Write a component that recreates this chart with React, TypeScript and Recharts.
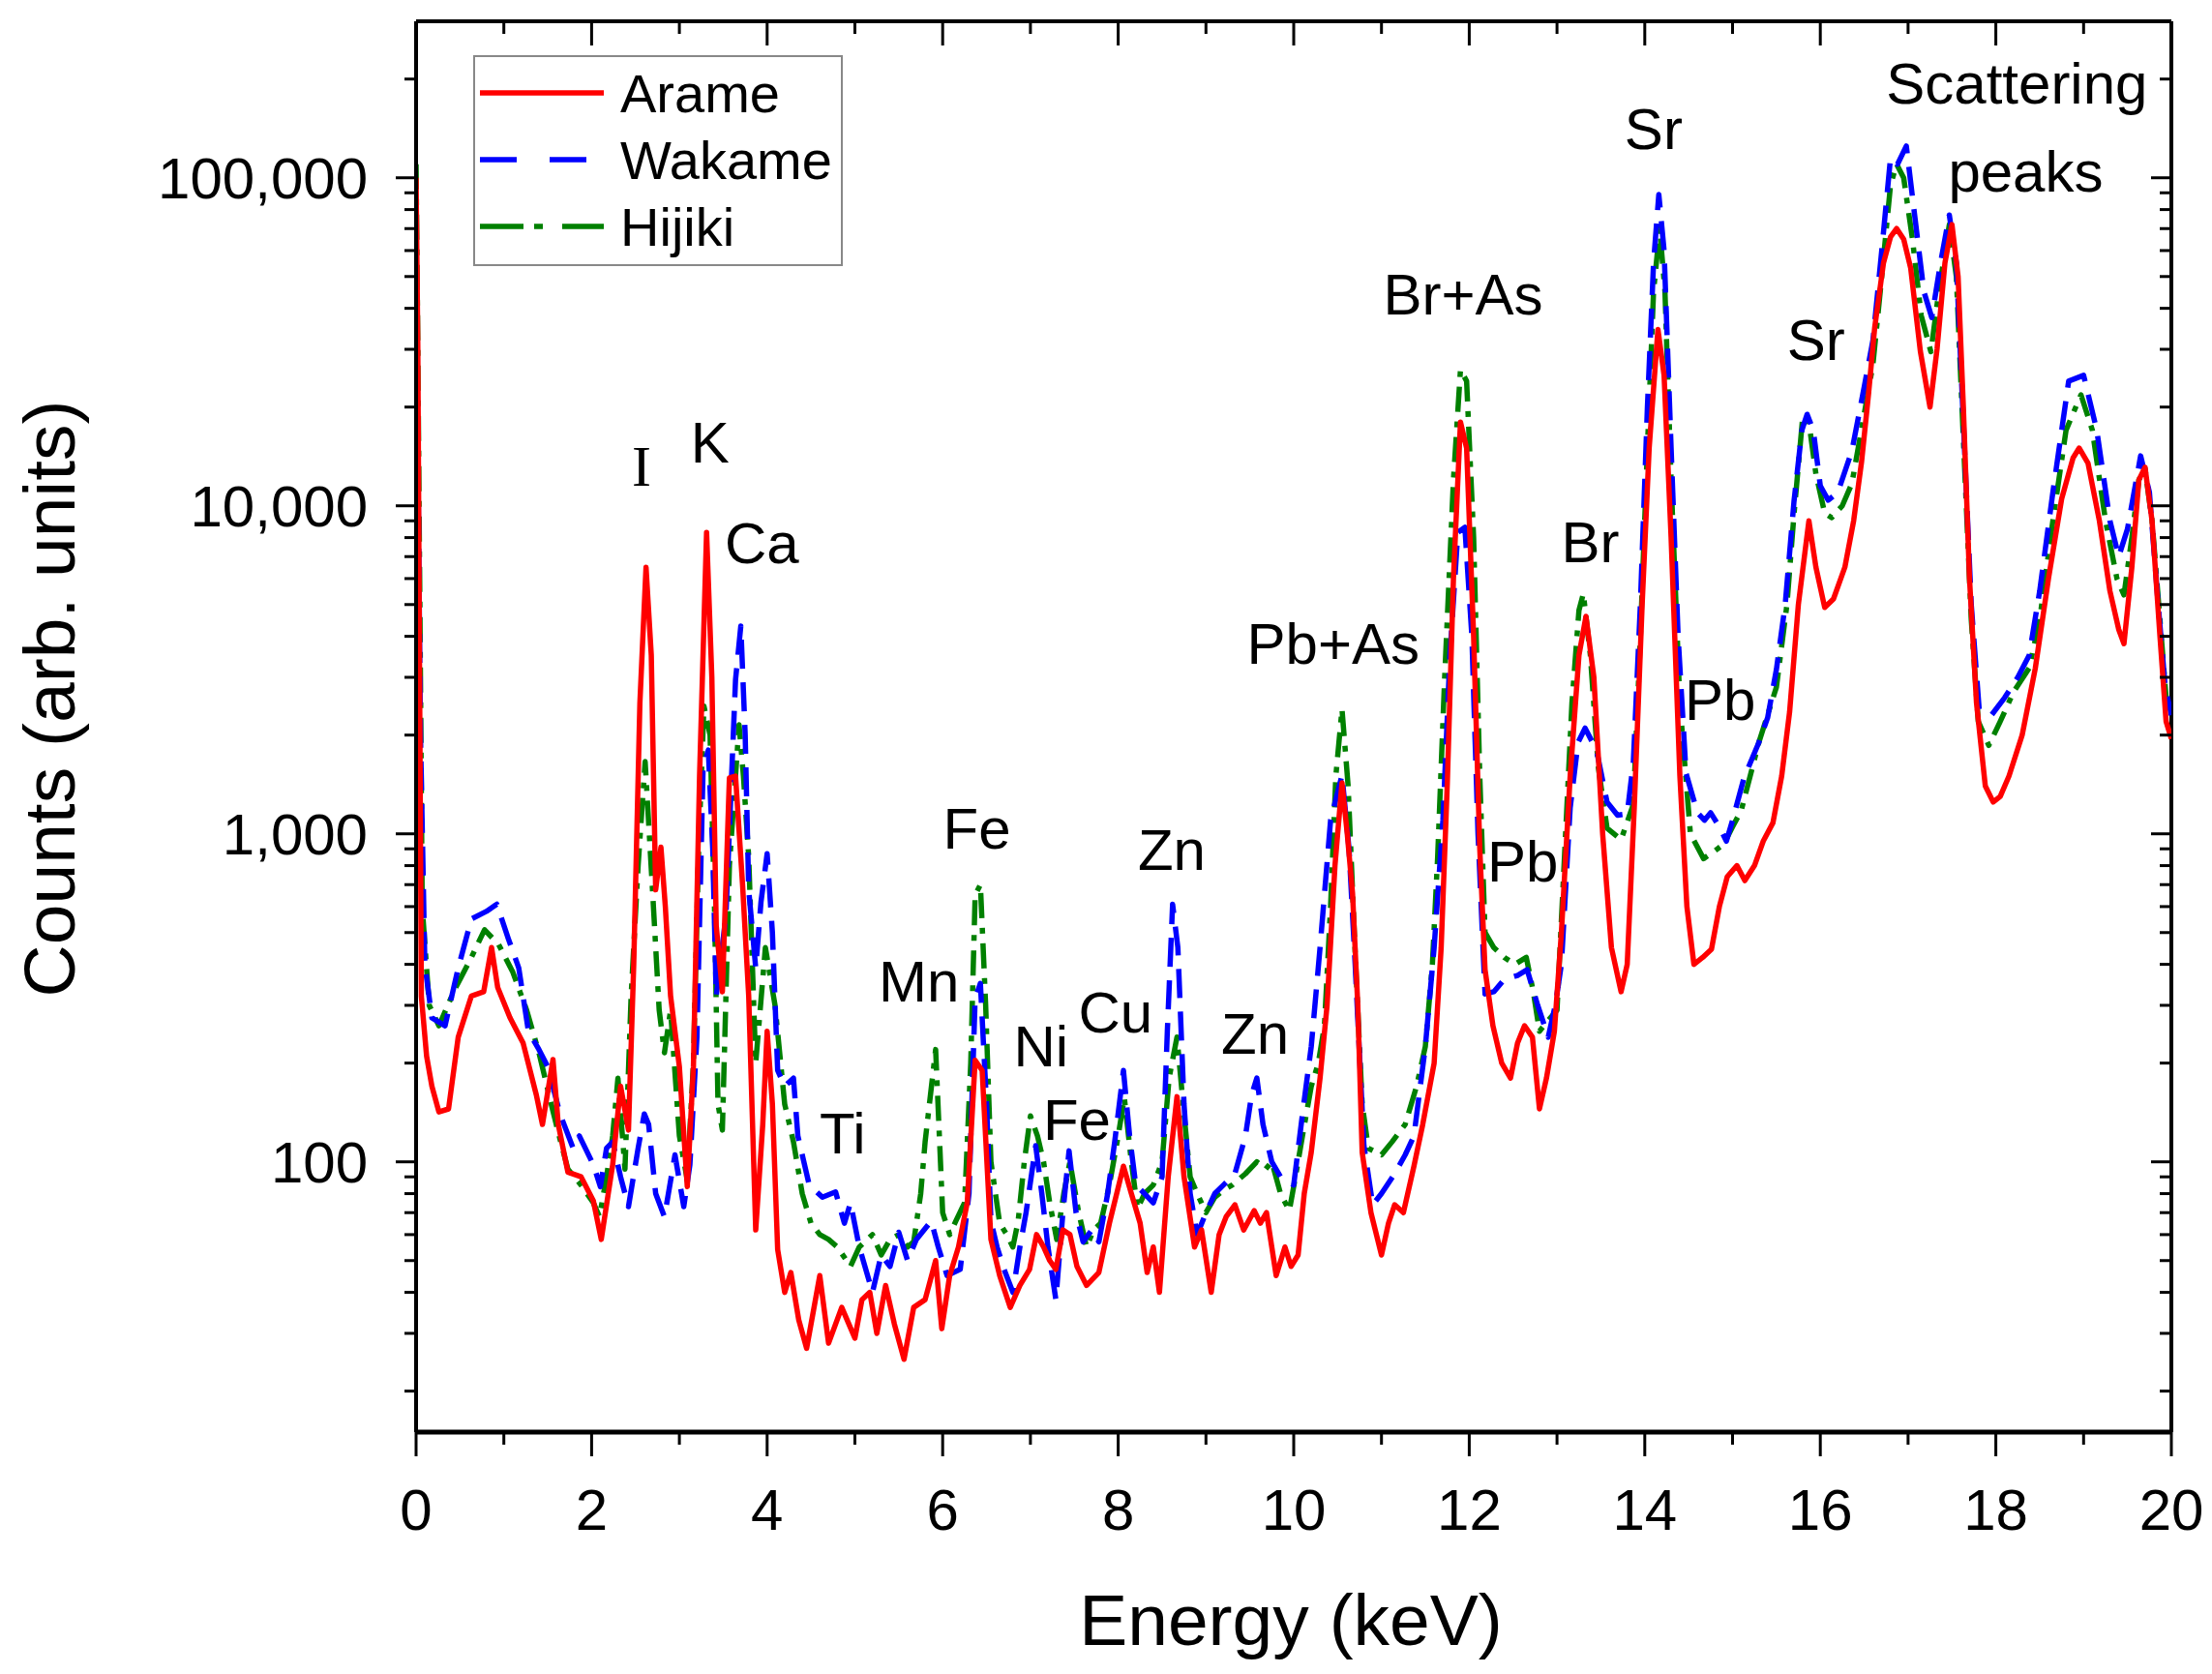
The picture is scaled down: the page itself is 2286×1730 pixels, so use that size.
import React from "react";
import { LineChart, Line, XAxis, YAxis, ReferenceLine, ReferenceDot } from "recharts";

// XRF spectra, [energy keV, counts]
const arame: [number, number][] = [
  [0, 100000], [0.02, 30000], [0.04, 3000], [0.06, 320], [0.12, 210], [0.18, 170], [0.26, 142], [0.37, 145],
  [0.48, 240], [0.63, 320], [0.77, 330], [0.86, 450], [0.93, 340], [1.07, 275], [1.22, 230], [1.37, 160],
  [1.44, 130], [1.56, 205], [1.62, 130], [1.73, 93], [1.88, 90], [2.02, 76], [2.11, 58], [2.24, 98],
  [2.33, 170], [2.42, 125], [2.48, 400], [2.55, 2500], [2.62, 6500], [2.68, 3500], [2.73, 675], [2.79, 910],
  [2.84, 600], [2.9, 320], [3.0, 195], [3.09, 84], [3.16, 195], [3.23, 1500], [3.31, 8300], [3.37, 3000],
  [3.42, 525], [3.49, 330], [3.57, 1480], [3.64, 1500], [3.72, 700], [3.79, 320], [3.87, 62], [3.95, 130],
  [4.0, 250], [4.06, 150], [4.12, 54], [4.2, 40], [4.27, 46], [4.36, 33], [4.45, 27], [4.6, 45],
  [4.7, 28], [4.85, 36], [5.0, 29], [5.08, 38], [5.17, 40], [5.25, 30], [5.35, 42], [5.45, 32],
  [5.56, 25], [5.67, 36], [5.8, 38], [5.92, 50], [5.99, 31], [6.08, 45], [6.18, 55], [6.28, 75],
  [6.37, 204], [6.45, 190], [6.55, 58], [6.65, 45], [6.77, 36], [6.88, 42], [6.99, 47], [7.07, 60],
  [7.15, 55], [7.22, 50], [7.29, 47], [7.37, 62], [7.45, 60], [7.53, 48], [7.64, 42], [7.78, 46],
  [7.9, 65], [8.06, 97], [8.15, 80], [8.25, 65], [8.33, 46], [8.4, 55], [8.47, 40], [8.57, 90],
  [8.67, 158], [8.75, 90], [8.87, 55], [8.95, 62], [9.06, 40], [9.15, 60], [9.23, 68], [9.33, 74],
  [9.43, 62], [9.55, 71], [9.62, 65], [9.69, 70], [9.8, 45], [9.9, 55], [9.97, 48], [10.05, 52],
  [10.12, 80], [10.2, 107], [10.3, 180], [10.38, 300], [10.47, 800], [10.55, 1430], [10.61, 1000], [10.67, 660],
  [10.73, 300], [10.78, 107], [10.88, 70], [11.0, 52], [11.08, 65], [11.15, 74], [11.25, 70], [11.37, 97],
  [11.47, 130], [11.6, 200], [11.68, 450], [11.75, 1430], [11.82, 6000], [11.9, 18000], [11.97, 15000], [12.05, 4000],
  [12.12, 900], [12.18, 385], [12.27, 260], [12.37, 200], [12.47, 180], [12.55, 230], [12.63, 260], [12.72, 240],
  [12.8, 145], [12.88, 180], [12.97, 250], [13.05, 500], [13.15, 1500], [13.25, 3500], [13.33, 4600], [13.42, 3000],
  [13.52, 1000], [13.62, 450], [13.73, 330], [13.8, 400], [13.88, 1200], [13.97, 5000], [14.05, 15000], [14.15, 34500],
  [14.22, 25000], [14.3, 8000], [14.4, 1500], [14.48, 600], [14.56, 400], [14.66, 420], [14.76, 445], [14.85, 600],
  [14.94, 740], [15.05, 800], [15.14, 720], [15.25, 800], [15.35, 950], [15.46, 1080], [15.56, 1500], [15.65, 2350],
  [15.75, 5000], [15.87, 9000], [15.95, 6500], [16.05, 4900], [16.15, 5200], [16.28, 6500], [16.38, 9000], [16.47, 13600],
  [16.55, 22000], [16.62, 35000], [16.72, 55000], [16.8, 66000], [16.87, 70000], [16.95, 65000], [17.03, 53000], [17.14, 29600],
  [17.25, 20000], [17.33, 30000], [17.42, 55000], [17.5, 72000], [17.57, 50000], [17.63, 20000], [17.7, 6000], [17.78, 2500],
  [17.88, 1400], [17.97, 1250], [18.05, 1300], [18.15, 1500], [18.3, 2000], [18.45, 3200], [18.6, 6000], [18.75, 10500],
  [18.88, 14000], [18.95, 15000], [19.05, 13500], [19.18, 9000], [19.3, 5500], [19.4, 4200], [19.46, 3800], [19.55, 6500],
  [19.63, 12000], [19.7, 13100], [19.78, 9000], [19.87, 4000], [19.94, 2200], [20.0, 1950],
];

const wakame: [number, number][] = [
  [0, 60000], [0.02, 15000], [0.05, 2000], [0.1, 400], [0.18, 275], [0.33, 260], [0.48, 390], [0.63, 550],
  [0.8, 580], [0.92, 610], [1.05, 480], [1.17, 390], [1.28, 250], [1.4, 220], [1.5, 195], [1.64, 140],
  [1.79, 110], [1.86, 120], [2.02, 98], [2.1, 84], [2.17, 110], [2.24, 115], [2.33, 90], [2.42, 73],
  [2.53, 110], [2.6, 140], [2.65, 130], [2.73, 80], [2.83, 68], [2.95, 105], [3.05, 73], [3.12, 98],
  [3.2, 240], [3.27, 1580], [3.33, 1800], [3.38, 900], [3.42, 320], [3.53, 560], [3.64, 2950], [3.7, 4300],
  [3.75, 2000], [3.79, 675], [3.87, 390], [3.93, 620], [4.0, 870], [4.06, 500], [4.12, 190], [4.2, 170],
  [4.3, 180], [4.35, 120], [4.48, 85], [4.63, 78], [4.78, 81], [4.88, 65], [4.95, 75], [5.05, 55],
  [5.2, 40], [5.3, 52], [5.4, 48], [5.5, 61], [5.6, 50], [5.7, 58], [5.87, 66], [5.95, 55],
  [6.05, 45], [6.2, 47], [6.3, 80], [6.37, 315], [6.43, 350], [6.5, 150], [6.55, 66], [6.62, 55],
  [6.7, 47], [6.8, 40], [6.88, 55], [6.95, 70], [7.06, 112], [7.13, 80], [7.2, 55], [7.29, 38],
  [7.37, 70], [7.44, 108], [7.52, 70], [7.6, 57], [7.7, 62], [7.78, 57], [7.88, 80], [7.96, 115],
  [8.06, 190], [8.13, 120], [8.2, 85], [8.3, 80], [8.4, 75], [8.5, 90], [8.56, 250], [8.62, 610],
  [8.68, 450], [8.75, 150], [8.82, 80], [8.9, 60], [9.0, 70], [9.1, 80], [9.2, 85], [9.33, 92],
  [9.45, 120], [9.52, 160], [9.58, 180], [9.65, 130], [9.75, 100], [9.85, 90], [10.0, 85], [10.1, 140],
  [10.2, 225], [10.3, 450], [10.42, 1100], [10.55, 1510], [10.63, 900], [10.7, 400], [10.8, 112], [10.9, 74],
  [11.0, 80], [11.15, 92], [11.27, 105], [11.37, 120], [11.5, 225], [11.6, 450], [11.7, 1100], [11.78, 3500],
  [11.87, 8300], [11.95, 8600], [12.03, 4000], [12.1, 1000], [12.18, 325], [12.28, 330], [12.4, 360], [12.55, 370],
  [12.66, 385], [12.78, 300], [12.9, 240], [12.98, 300], [13.05, 400], [13.15, 1200], [13.24, 1900], [13.32, 2100],
  [13.45, 1800], [13.57, 1250], [13.69, 1140], [13.8, 1150], [13.87, 1660], [13.95, 5000], [14.03, 20000], [14.1, 55000],
  [14.16, 89000], [14.22, 60000], [14.3, 15000], [14.38, 4000], [14.47, 1530], [14.6, 1160], [14.68, 1100], [14.75, 1160],
  [14.85, 1050], [14.93, 950], [15.0, 1100], [15.13, 1480], [15.3, 1900], [15.4, 2260], [15.5, 3170], [15.6, 5000],
  [15.7, 10300], [15.79, 17000], [15.85, 19000], [15.92, 17000], [16.0, 11500], [16.09, 10400], [16.2, 11000], [16.36, 14700],
  [16.5, 23000], [16.6, 32000], [16.7, 60000], [16.8, 115000], [16.88, 110000], [16.98, 125000], [17.08, 75000], [17.18, 45000],
  [17.27, 37500], [17.37, 55000], [17.47, 77000], [17.55, 55000], [17.63, 18000], [17.72, 5000], [17.81, 2400], [17.95, 2300],
  [18.1, 2600], [18.25, 3000], [18.38, 3500], [18.5, 5500], [18.65, 11000], [18.83, 24000], [19.0, 25000], [19.15, 17000],
  [19.3, 9000], [19.4, 7000], [19.5, 8500], [19.65, 14200], [19.75, 11000], [19.85, 5000], [19.93, 2800], [20.0, 2300],
];

const hijiki: [number, number][] = [
  [0, 110000], [0.02, 30000], [0.05, 3000], [0.07, 600], [0.15, 300], [0.26, 260], [0.44, 335], [0.63, 420],
  [0.78, 510], [0.94, 460], [1.1, 380], [1.26, 290], [1.4, 215], [1.54, 150], [1.63, 120], [1.73, 95],
  [1.88, 85], [2.02, 75], [2.09, 68], [2.17, 90], [2.24, 120], [2.3, 180], [2.38, 95], [2.45, 320],
  [2.53, 800], [2.61, 1660], [2.7, 630], [2.77, 290], [2.83, 215], [2.9, 290], [3.0, 120], [3.09, 88],
  [3.16, 200], [3.22, 900], [3.28, 2450], [3.35, 2000], [3.4, 600], [3.44, 150], [3.49, 125], [3.57, 800],
  [3.68, 2150], [3.73, 1500], [3.79, 850], [3.87, 200], [3.98, 450], [4.09, 300], [4.2, 150], [4.3, 115],
  [4.4, 80], [4.5, 65], [4.6, 60], [4.7, 58], [4.8, 55], [4.95, 48], [5.05, 55], [5.2, 60],
  [5.3, 52], [5.4, 58], [5.5, 60], [5.6, 55], [5.67, 57], [5.75, 80], [5.8, 115], [5.92, 220],
  [6.0, 70], [6.08, 60], [6.15, 66], [6.25, 75], [6.32, 200], [6.37, 650], [6.43, 700], [6.49, 300],
  [6.55, 100], [6.65, 65], [6.73, 60], [6.8, 55], [6.86, 66], [6.93, 100], [7.0, 138], [7.08, 120],
  [7.15, 100], [7.22, 75], [7.3, 58], [7.38, 80], [7.45, 100], [7.55, 70], [7.64, 55], [7.72, 62],
  [7.8, 65], [7.9, 85], [8.0, 120], [8.07, 157], [8.15, 100], [8.22, 72], [8.3, 80], [8.4, 85],
  [8.5, 100], [8.58, 180], [8.67, 240], [8.75, 140], [8.82, 90], [8.9, 80], [9.0, 70], [9.1, 78],
  [9.2, 82], [9.3, 85], [9.45, 92], [9.58, 100], [9.68, 95], [9.75, 100], [9.85, 80], [9.95, 71],
  [10.02, 90], [10.1, 120], [10.2, 170], [10.28, 200], [10.35, 260], [10.42, 600], [10.48, 1500], [10.55, 2400],
  [10.62, 1400], [10.7, 435], [10.78, 150], [10.85, 110], [11.0, 105], [11.12, 115], [11.27, 130], [11.4, 170],
  [11.5, 225], [11.58, 400], [11.64, 850], [11.72, 3000], [11.82, 12000], [11.9, 26000], [11.97, 24000], [12.05, 8000],
  [12.12, 1500], [12.18, 500], [12.28, 450], [12.4, 420], [12.52, 400], [12.65, 420], [12.73, 330], [12.8, 250],
  [12.9, 270], [13.0, 290], [13.08, 800], [13.17, 2500], [13.25, 4800], [13.3, 5400], [13.38, 3500], [13.47, 1600],
  [13.57, 1040], [13.73, 960], [13.87, 1230], [13.95, 4000], [14.03, 15000], [14.1, 45000], [14.17, 70000], [14.23, 45000],
  [14.3, 12000], [14.4, 2500], [14.52, 1000], [14.67, 840], [14.78, 880], [14.9, 930], [15.0, 1050], [15.1, 1180],
  [15.3, 1900], [15.5, 2800], [15.62, 5000], [15.7, 9400], [15.8, 18700], [15.87, 18000], [15.95, 12500], [16.05, 9500],
  [16.13, 9200], [16.25, 10000], [16.36, 11700], [16.5, 19000], [16.6, 27000], [16.7, 50000], [16.8, 95000], [16.87, 110000],
  [16.95, 100000], [17.05, 65000], [17.15, 38000], [17.26, 29500], [17.35, 45000], [17.47, 72000], [17.55, 50000], [17.63, 16000],
  [17.72, 4500], [17.8, 2200], [17.92, 1860], [18.05, 2200], [18.2, 2700], [18.38, 3200], [18.5, 4500], [18.65, 9000],
  [18.8, 17000], [18.97, 21800], [19.1, 17000], [19.25, 9000], [19.38, 6000], [19.46, 5350], [19.55, 8000], [19.63, 12000],
  [19.7, 13000], [19.78, 9000], [19.87, 4500], [19.94, 2600], [20.0, 2300],
];

const energyTicks = [0, 1, 2, 3, 4, 5, 6, 7, 8, 9, 10, 11, 12, 13, 14, 15, 16, 17, 18, 19, 20];
const countTicks = [
  20, 30, 40, 50, 60, 70, 80, 90,
  100, 200, 300, 400, 500, 600, 700, 800, 900,
  1000, 2000, 3000, 4000, 5000, 6000, 7000, 8000, 9000,
  10000, 20000, 30000, 40000, 50000, 60000, 70000, 80000, 90000,
  100000, 200000,
];

// element labels: text, energy, counts
const peakLabels: [string, number, number][] = [
  ["I", 2.57, 13200], ["K", 3.35, 15600], ["Ca", 3.94, 7700], ["Ti", 4.86, 122],
  ["Mn", 5.73, 355], ["Fe", 6.39, 1035], ["Ni", 7.12, 224], ["Fe", 7.53, 134],
  ["Cu", 7.97, 286], ["Zn", 8.61, 890], ["Zn", 9.56, 245], ["Pb+As", 10.45, 3800],
  ["Br+As", 11.93, 44000], ["Pb", 12.61, 822], ["Br", 13.38, 7730], ["Sr", 14.1, 141000],
  ["Pb", 14.86, 2560], ["Sr", 15.95, 32000], ["Scattering", 18.24, 194000], ["peaks", 18.34, 104000],
];

const series = [
  { name: "Hijiki", data: hijiki, color: "#008000", dash: "26 10 6 10", legendDash: "45 11 9 20" },
  { name: "Wakame", data: wakame, color: "#0000ff", dash: "30 14", legendDash: "38 34" },
  { name: "Arame", data: arame, color: "#ff0000", dash: undefined, legendDash: undefined },
];
const legendOrder = ["Arame", "Wakame", "Hijiki"];

const FONT = "'Liberation Sans', Arial, sans-serif";
const W = 2270;
const H = 1714;
const LEFT = 422;
const TOP = 14;
const PLOT_W = 1814;
const PLOT_H = 1458;

const YTick = (props: any) => {
  const { x, y, payload } = props;
  const v = payload.value;
  const lg = Math.log10(v);
  const major = Math.abs(lg - Math.round(lg)) < 1e-6;
  const len = major ? 21 : 12;
  return (
    <g>
      <line x1={x - len} y1={y} x2={x} y2={y} stroke="#000" strokeWidth={3} />
      <line x1={x + PLOT_W - len} y1={y} x2={x + PLOT_W} y2={y} stroke="#000" strokeWidth={3} />
      {major && (
        <text x={x - 50} y={y + 21} textAnchor="end" fontSize={60} fontFamily={FONT} fill="#000">
          {v.toLocaleString("en-US")}
        </text>
      )}
    </g>
  );
};

const XTick = (props: any) => {
  const { x, y, payload } = props;
  const v = payload.value;
  const major = v % 2 === 0;
  const len = major ? 25 : 13;
  return (
    <g>
      <line x1={x} y1={y} x2={x} y2={y + len} stroke="#000" strokeWidth={3} />
      <line x1={x} y1={y - PLOT_H} x2={x} y2={y - PLOT_H + len} stroke="#000" strokeWidth={3} />
      {major && (
        <text x={x} y={y + 101} textAnchor="middle" fontSize={60} fontFamily={FONT} fill="#000">
          {v}
        </text>
      )}
    </g>
  );
};

export default function App() {
  return (
    <div style={{ position: "relative", width: W, height: H, background: "#fff" }}>
      <LineChart
        width={W}
        height={H}
        margin={{ top: TOP, right: W - LEFT - PLOT_W, bottom: H - TOP - PLOT_H - 2, left: LEFT - 2 }}
      >
        <XAxis
          dataKey="e"
          type="number"
          domain={[0, 20]}
          ticks={energyTicks}
          interval={0}
          height={2}
          tickSize={0}
          tickMargin={0}
          tickLine={false}
          tick={<XTick />}
          axisLine={{ stroke: "#000", strokeWidth: 5 }}
          allowDataOverflow
        />
        <YAxis
          dataKey="c"
          type="number"
          scale="log"
          domain={[15, 300000]}
          ticks={countTicks}
          interval={0}
          width={2}
          tickSize={0}
          tickMargin={0}
          tickLine={false}
          tick={<YTick />}
          axisLine={{ stroke: "#000", strokeWidth: 4 }}
          allowDataOverflow
        />
        <ReferenceLine y={300000} stroke="#000" strokeWidth={4} />
        <ReferenceLine x={20} stroke="#000" strokeWidth={4} />
        {series.map((s) => (
          <Line
            key={s.name}
            name={s.name}
            data={s.data.map(([e, c]) => ({ e, c }))}
            dataKey="c"
            type="linear"
            stroke={s.color}
            strokeWidth={5.5}
            strokeLinejoin="round"
            strokeDasharray={s.dash}
            dot={false}
            activeDot={false}
            isAnimationActive={false}
          />
        ))}
        {peakLabels.map(([text, e, c], i) => (
          <ReferenceDot
            key={i}
            x={e}
            y={c}
            r={0}
            shape={(p: any) => (
              <text
                x={p.cx}
                y={p.cy}
                textAnchor="middle"
                dominantBaseline="central"
                fontSize={60}
                fontFamily={text === "I" ? "'Liberation Serif', serif" : FONT}
                fill="#000"
              >
                {text}
              </text>
            )}
          />
        ))}
      </LineChart>
      <svg
        width={W}
        height={H}
        style={{ position: "absolute", left: 0, top: 0, pointerEvents: "none" }}
      >
        <rect x={482} y={50} width={380} height={216} fill="#fff" stroke="#888" strokeWidth={2} />
        {legendOrder.map((name, i) => {
          const s = series.find((d) => d.name === name)!;
          const cy = 88 + i * 69;
          return (
            <g key={name}>
              <line x1={488} y1={cy} x2={616} y2={cy} stroke={s.color} strokeWidth={5.5} strokeDasharray={s.legendDash} />
              <text x={633} y={cy + 20} fontSize={56} fontFamily={FONT} fill="#000">
                {name}
              </text>
            </g>
          );
        })}
        <text x={1326} y={1666} textAnchor="middle" dominantBaseline="central" fontSize={75} fontFamily={FONT} fill="#000">
          Energy (keV)
        </text>
        <text
          x={43}
          y={714}
          textAnchor="middle"
          dominantBaseline="central"
          fontSize={75}
          fontFamily={FONT}
          fill="#000"
          transform="rotate(-90 43 714)"
        >
          Counts (arb. units)
        </text>
      </svg>
    </div>
  );
}
